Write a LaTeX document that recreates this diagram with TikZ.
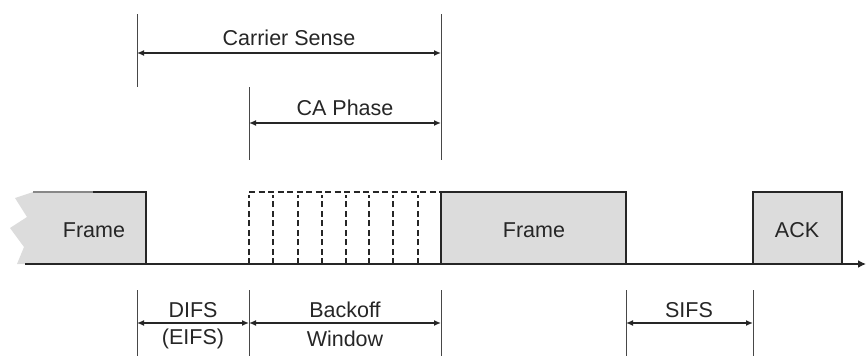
\documentclass[tikz,border=0pt]{standalone}
\usepackage{fontspec}
\setmainfont{Liberation Sans}
\usetikzlibrary{arrows.meta}
\definecolor{ink}{HTML}{262626}
\definecolor{framefill}{HTML}{DCDCDC}
\begin{document}
\begin{tikzpicture}[x=1pt,y=-1pt,
  every node/.style={font=\fontsize{21.5}{24}\selectfont, text=ink, inner sep=0pt},
  slot/.style={draw=ink, line width=1.8pt, fill=framefill},
  guide/.style={draw=ink!85, line width=1pt},
  dim/.style={draw=ink, line width=1.4pt, {Latex[length=7pt,width=6pt]}-{Latex[length=7pt,width=6pt]}},
  ghost/.style={draw=ink, line width=1.9pt, dash pattern=on 6pt off 3.5pt}]
\useasboundingbox (0,0) rectangle (866,356);

% time axis
\coordinate (axL) at (25,264);
\coordinate (axR) at (866,264);

% first (torn) frame
\fill[framefill] (33,192) -- (15,198) -- (27,217) -- (10,228) -- (24,247) -- (17,264)
  -- (146,264) -- (146,192) -- cycle;
\draw[ink!55, line width=1.5pt] (33,192) -- (93,192);
\draw[ink, line width=1.8pt] (93,192) -- (146,192) -- (146,264);
\node (f1) at (94,230) {Frame};

% backoff slots (dashed)
\foreach \x in {249,273,298,322,346,369,393,418}
  \draw[ghost] (\x,264) -- (\x,195);
\draw[ghost] (249,192) -- (441,192);

% second frame and ACK
\draw[slot] (441,264) rectangle (626,192);
\node (f2) at (534,230) {Frame};
\draw[slot] (753,264) rectangle (842,192);
\node (ack) at (797,230) {ACK};

\draw[ink, line width=2.4pt, -{Latex[length=8pt,width=8pt]}] (axL) -- (axR);

% upper guide lines
\coordinate (csL) at (137,53);
\coordinate (csR) at (441,53);
\coordinate (caL) at (249,123);
\coordinate (caR) at (441,123);
\draw[guide] (137,14) -- (137,87);
\draw[guide] (441,14) -- (441,160);
\draw[guide] (249,87) -- (249,160);

\draw[dim] (csL) -- (csR);
\node (cs) at (289,38) {Carrier Sense};
\draw[dim] (caL) -- (caR);
\node (ca) at (345,108) {CA Phase};

% lower guide lines
\foreach \x in {137,249,441,626,753}
  \draw[guide] (\x,290) -- (\x,356);
\coordinate (d1) at (137,323);
\coordinate (d2) at (249,323);
\coordinate (d3) at (441,323);
\coordinate (s1) at (626,323);
\coordinate (s2) at (753,323);
\draw[dim] (d1) -- (d2);
\draw[dim] (d2) -- (d3);
\draw[dim] (s1) -- (s2);
\node (difs) at (193,310) {DIFS};
\node (eifs) at (193,339) {(EIFS)};
\node (bo) at (345,310) {Backoff};
\node (win) at (345,339) {Window};
\node (sifs) at (689,310) {SIFS};
\end{tikzpicture}
\end{document}
